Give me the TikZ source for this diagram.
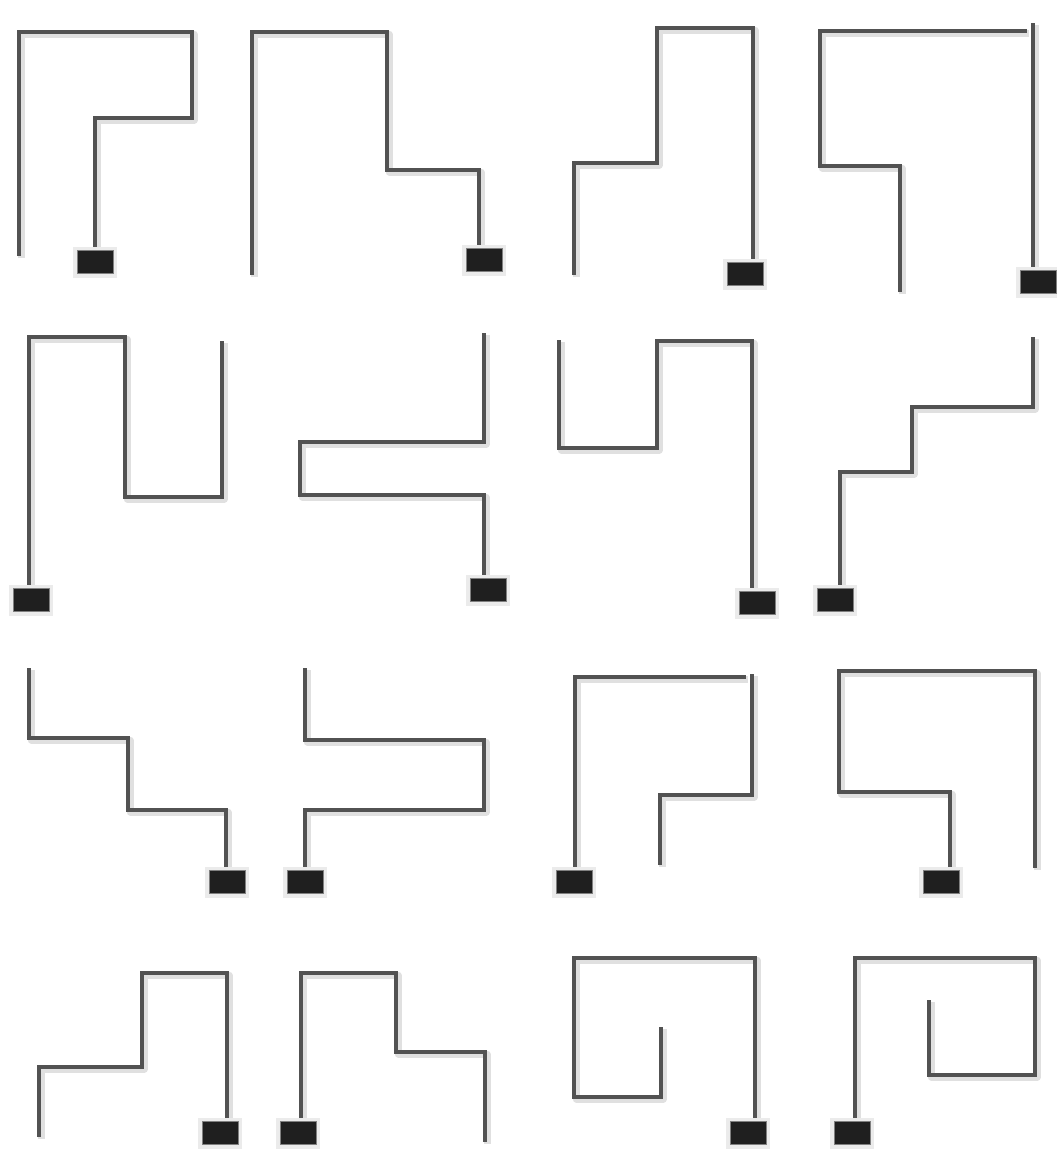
\documentclass[tikz,border=0pt]{standalone}
\begin{document}
\begin{tikzpicture}[x=1pt,y=-1pt,
  wire/.style={draw=black!68, line width=3.2pt, line join=miter, line cap=butt,
    preaction={draw=black!12, line width=7pt, line join=round, transform canvas={xshift=2pt,yshift=-2pt}}},
  pad/.style={fill=black!88, draw=black!50, line width=1pt, minimum width=36pt, minimum height=23pt, inner sep=0pt,
    preaction={draw=black!8, line width=8pt}}]
\fill[white] (0,0) rectangle (1057,1159);
\useasboundingbox (0,0) rectangle (1057,1159);
% row 1
\draw[wire] (19,256) -- (19,32) -- (192,32) -- (192,118) -- (95,118) -- (95,252);
\node[pad] (p1) at (95,262) {};
\draw[wire] (252,275) -- (252,32) -- (387,32) -- (387,170) -- (479,170) -- (479,250);
\node[pad] (p2) at (484,260) {};
\draw[wire] (574,275) -- (574,163) -- (657,163) -- (657,28) -- (753,28) -- (753,263);
\node[pad] (p3) at (745,274) {};
\draw[wire] (900,292) -- (900,166) -- (820,166) -- (820,31) -- (1027,31);
\draw[wire] (1033,23) -- (1033,272);
\node[pad] (p4) at (1038,282) {};
% row 2
\draw[wire] (29,588) -- (29,337) -- (125,337) -- (125,497) -- (222,497) -- (222,341);
\node[pad] (p5) at (31,600) {};
\draw[wire] (484,333) -- (484,442) -- (300,442) -- (300,495) -- (484,495) -- (484,580);
\node[pad] (p6) at (488,590) {};
\draw[wire] (559,340) -- (559,448) -- (657,448) -- (657,341) -- (752,341) -- (752,593);
\node[pad] (p7) at (757,603) {};
\draw[wire] (1033,337) -- (1033,407) -- (912,407) -- (912,472) -- (840,472) -- (840,589);
\node[pad] (p8) at (835,600) {};
% row 3
\draw[wire] (29,668) -- (29,738) -- (128,738) -- (128,810) -- (226,810) -- (226,871);
\node[pad] (p9) at (227,882) {};
\draw[wire] (305,668) -- (305,740) -- (484,740) -- (484,810) -- (305,810) -- (305,871);
\node[pad] (p10) at (305,882) {};
\draw[wire] (575,871) -- (575,677) -- (746,677);
\draw[wire] (752,674) -- (752,795) -- (660,795) -- (660,865);
\node[pad] (p11) at (574,882) {};
\draw[wire] (1035,868) -- (1035,671) -- (839,671) -- (839,792) -- (950,792) -- (950,871);
\node[pad] (p12) at (941,882) {};
% row 4
\draw[wire] (39,1137) -- (39,1067) -- (142,1067) -- (142,973) -- (227,973) -- (227,1123);
\node[pad] (p13) at (220,1133) {};
\draw[wire] (301,1123) -- (301,973) -- (396,973) -- (396,1052) -- (485,1052) -- (485,1142);
\node[pad] (p14) at (298,1133) {};
\draw[wire] (755,1123) -- (755,958) -- (574,958) -- (574,1097) -- (661,1097) -- (661,1027);
\node[pad] (p15) at (748,1133) {};
\draw[wire] (855,1123) -- (855,958) -- (1035,958) -- (1035,1075) -- (929,1075) -- (929,1000);
\node[pad] (p16) at (852,1133) {};
\end{tikzpicture}
\end{document}
